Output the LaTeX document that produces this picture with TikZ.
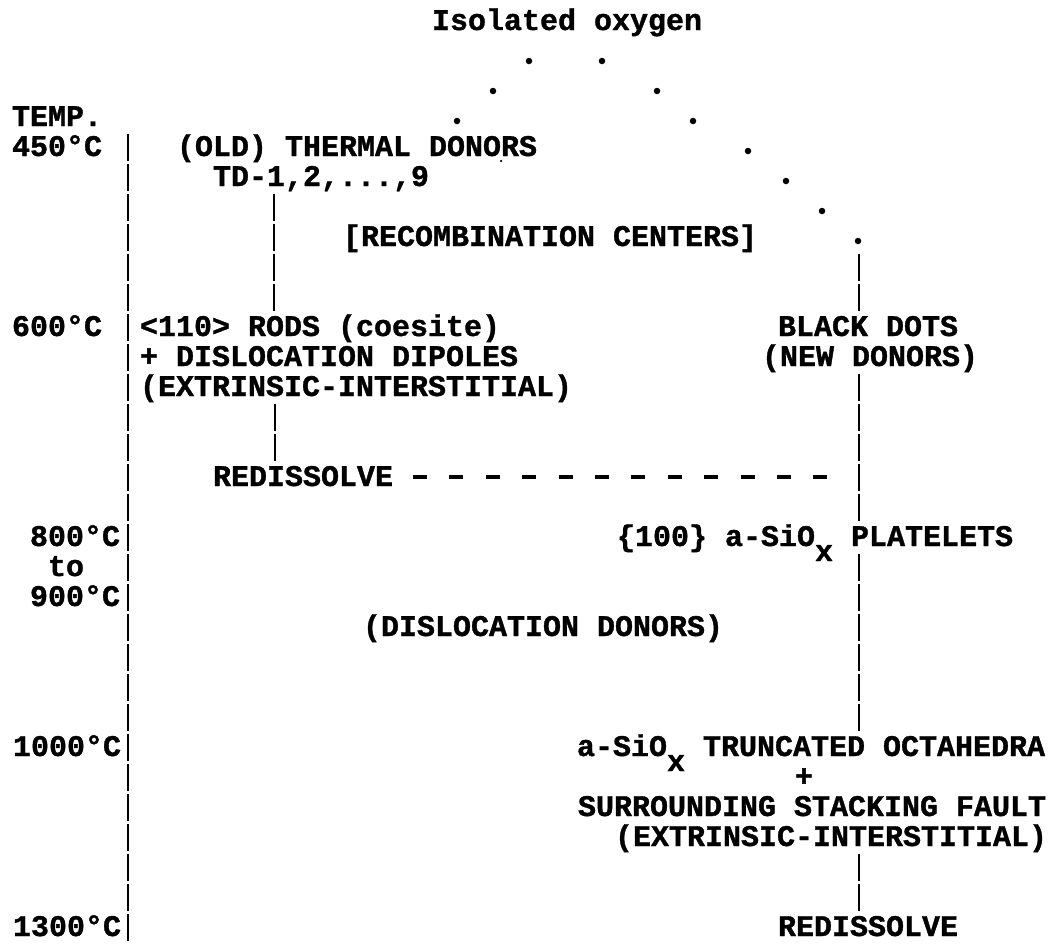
\documentclass[tikz,border=0pt]{standalone}
\usepackage{fontspec}
\setmonofont{Liberation Mono}[BoldFeatures={FakeBold=1.2}]
\begin{document}
\frenchspacing
\begin{tikzpicture}[x=1pt,y=-1pt,
  lbl/.style={inner sep=0pt, outer sep=0pt, anchor=base west,
    font=\ttfamily\bfseries\fontsize{30}{30}\selectfont},
  bar/.style={line width=2.8pt, dash pattern=on 27pt off 3pt},
  dashline/.style={line width=3.2pt, dash pattern=on 14pt off 22.4pt},
  period/.style={circle, fill, inner sep=0pt, minimum size=6.5pt},
  speck/.style={circle, fill, inner sep=0pt, minimum size=2.5pt},
]
\useasboundingbox (0,0) rectangle (1056,943);

% --- labels ---
\node[lbl] (title) at (432,30) {Isolated oxygen};
\node[lbl] (temp) at (12,126) {TEMP.};
\node[lbl] (t450) at (12,156) {450°C};
\node[lbl] (oldtd) at (177,156) {(OLD) THERMAL DONORS};
\node[lbl] (tdlist) at (213,186) {TD-1,2,...,9};
\node[lbl] (recomb) at (343,246) {[RECOMBINATION CENTERS]};
\node[lbl] (t600) at (12,336) {600°C};
\node[lbl] (rods) at (140,336) {<110> RODS (coesite)};
\node[lbl] (dipoles) at (140,366) {+ DISLOCATION DIPOLES};
\node[lbl] (extrA) at (140,396) {(EXTRINSIC-INTERSTITIAL)};
\node[lbl] (blackdots) at (778,336) {BLACK DOTS};
\node[lbl] (newdonors) at (762,366) {(NEW DONORS)};
\node[lbl] (redA) at (213,486) {REDISSOLVE};
\node[lbl] (t800) at (30,546) {800°C};
\node[lbl] (tto) at (48,576) {to};
\node[lbl] (t900) at (30,606) {900°C};
\node[lbl] (platelets) at (617,546) {\{100\} a-SiO\raisebox{-15pt}{x} PLATELETS};
\node[lbl] (disdonors) at (363,636) {(DISLOCATION DONORS)};
\node[lbl] (t1000) at (13,756) {1000°C};
\node[lbl] (octa) at (577,756) {a-SiO\raisebox{-15pt}{x} TRUNCATED OCTAHEDRA};
\node[lbl] (plus) at (795,786) {+};
\node[lbl] (fault) at (578,816) {SURROUNDING STACKING FAULT};
\node[lbl] (extrB) at (615,846) {(EXTRINSIC-INTERSTITIAL)};
\node[lbl] (redB) at (778,936) {REDISSOLVE};
\node[lbl] (t1300) at (13,936) {1300°C};

% --- dotted arc of isolated oxygen ---
\node[period] (pL1) at (529,61) {};
\node[period] (pL2) at (493,91) {};
\node[period] (pL3) at (457,121) {};
\node[period] (pR1) at (602,61) {};
\node[period] (pR2) at (657,91) {};
\node[period] (pR3) at (693,121) {};
\node[period] (pR4) at (748,151) {};
\node[period] (pR5) at (786,181) {};
\node[period] (pR6) at (822,211) {};
\node[period] (pR7) at (858,241) {};
\node[speck] (spk) at (501,161) {};

% --- bar end points ---
\coordinate (axTop) at (128,133.5);
\coordinate (axBot) at (128,943);
\coordinate (tdTop) at (274,193.5);
\coordinate (tdBot) at (274,310.5);
\coordinate (rdTop) at (275,403.5);
\coordinate (rdBot) at (275,460.5);
\coordinate (rA1) at (859,253.5);
\coordinate (rA2) at (859,310.5);
\coordinate (rB1) at (859,373.5);
\coordinate (rB2) at (859,520.5);
\coordinate (rC1) at (859,553.5);
\coordinate (rC2) at (859,730.5);
\coordinate (rD1) at (859,853.5);
\coordinate (rD2) at (859,910.5);
\coordinate (dashA) at (413,477);
\coordinate (dashB) at (828,477);

% --- bars ---
\draw[bar] (axTop) -- (axBot);
\draw[bar] (tdTop) -- (tdBot);
\draw[bar] (rdTop) -- (rdBot);
\draw[bar] (rA1) -- (rA2);
\draw[bar] (rB1) -- (rB2);
\draw[bar] (rC1) -- (rC2);
\draw[bar] (rD1) -- (rD2);
\draw[dashline] (dashA) -- (dashB);
\end{tikzpicture}
\end{document}
